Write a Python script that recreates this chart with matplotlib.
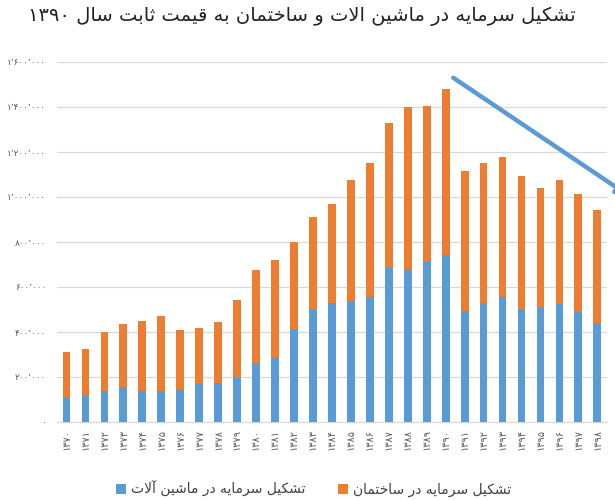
import re
import matplotlib
matplotlib.use("Agg")
import matplotlib.pyplot as plt
from matplotlib import font_manager, ft2font
import numpy as np

# ---------------- data ----------------
years = list(range(1370, 1399))
machinery = [110, 120, 138, 154, 140, 140, 145, 168, 172, 194,
             262, 289, 414, 497, 527, 540, 555, 686, 678, 713,
             744, 494, 527, 555, 497, 506, 523, 488, 438]          # thousand
totals = [310, 323, 400, 435, 447, 471, 408, 416, 443, 542,
          676, 720, 801, 910, 969, 1075, 1150, 1331, 1401, 1405,
          1479, 1116, 1152, 1180, 1093, 1041, 1074, 1012, 941]     # thousand
machinery = [v * 1000 for v in machinery]
buildings = [t * 1000 - m for t, m in zip(totals, machinery)]
y_ticks = [0, 200000, 400000, 600000, 800000, 1000000, 1200000, 1400000, 1600000]

title = "تشکیل سرمایه در ماشین الات و ساختمان به قیمت ثابت سال ۱۳۹۰"
label_mach = "تشکیل سرمایه در ماشین آلات"
label_build = "تشکیل سرمایه در ساختمان"

# trend arrow (data coordinates: category index, value)
arrow_start = (20.4, 1530000)
arrow_end = (29.6, 1009000)

BLUE = "#5B9BD5"
ORANGE = "#ED7D31"

# ---------------- simple Persian shaping ----------------
fpath = font_manager.findfont("DejaVu Sans")
charmap = ft2font.FT2Font(fpath).get_charmap()

FORMS = {
    'ا': (0xFE8D, 0xFE8E, None, None),
    'آ': (0xFE81, 0xFE82, None, None),
    'ب': (0xFE8F, 0xFE90, 0xFE91, 0xFE92),
    'ت': (0xFE95, 0xFE96, 0xFE97, 0xFE98),
    'ث': (0xFE99, 0xFE9A, 0xFE9B, 0xFE9C),
    'خ': (0xFEA5, 0xFEA6, 0xFEA7, 0xFEA8),
    'د': (0xFEA9, 0xFEAA, None, None),
    'ر': (0xFEAD, 0xFEAE, None, None),
    'س': (0xFEB1, 0xFEB2, 0xFEB3, 0xFEB4),
    'ش': (0xFEB5, 0xFEB6, 0xFEB7, 0xFEB8),
    'ق': (0xFED5, 0xFED6, 0xFED7, 0xFED8),
    'ک': (0xFB8E, 0xFB8F, 0xFB90, 0xFB91),
    'ل': (0xFEDD, 0xFEDE, 0xFEDF, 0xFEE0),
    'م': (0xFEE1, 0xFEE2, 0xFEE3, 0xFEE4),
    'ن': (0xFEE5, 0xFEE6, 0xFEE7, 0xFEE8),
    'ه': (0xFEE9, 0xFEEA, 0xFEEB, 0xFEEC),
    'و': (0xFEED, 0xFEEE, None, None),
    'ی': (0xFBFC, 0xFBFD, 0xFBFE, 0xFBFF),
}
FALLBACK = {
    'ک': (0xFED9, 0xFEDA, 0xFEDB, 0xFEDC),
    'ی': (0xFEEF, 0xFEF0, 0xFEF3, 0xFEF4),
}
for k, fb in FALLBACK.items():
    if not all(c in charmap for c in FORMS[k]):
        FORMS[k] = fb
LAMALEF = {'ا': (0xFEFB, 0xFEFC), 'آ': (0xFEF5, 0xFEF6)}


def shape(s):
    out = []
    i, n = 0, len(s)
    while i < n:
        c = s[i]
        if c not in FORMS:
            out.append(c)
            i += 1
            continue
        prev_c = s[i - 1] if i > 0 else None
        prev_j = prev_c in FORMS and FORMS[prev_c][2] is not None
        if c == 'ل' and i + 1 < n and s[i + 1] in LAMALEF:
            iso, fin = LAMALEF[s[i + 1]]
            out.append(chr(fin if prev_j else iso))
            i += 2
            continue
        nxt = s[i + 1] if i + 1 < n else None
        next_j = FORMS[c][2] is not None and nxt in FORMS
        f = FORMS[c]
        if prev_j and next_j:
            code = f[3]
        elif prev_j:
            code = f[1]
        elif next_j:
            code = f[2]
        else:
            code = f[0]
        out.append(chr(code))
        i += 1
    shaped = "".join(out)
    tokens = re.findall(r'[0-9\u06F0-\u06F9]+|[^0-9\u06F0-\u06F9]', shaped)
    return "".join(tokens[::-1])


PD = str.maketrans("0123456789", "۰۱۲۳۴۵۶۷۸۹")


def fa_num(v):
    return f"{v:,}".replace(",", "\u066C").translate(PD)


# ---------------- plot ----------------
plt.rcParams['font.family'] = ['DejaVu Sans']
fig = plt.figure(figsize=(6.15, 5.0), dpi=100)
ax = fig.add_axes([0.0927, 0.156, 0.894, 0.72])

x = np.arange(len(years))
w = 0.41
ax.bar(x, machinery, w, color=BLUE, label=shape(label_mach), zorder=3)
ax.bar(x, buildings, w, bottom=machinery, color=ORANGE, label=shape(label_build), zorder=3)

ax.set_xlim(-0.5, len(years) - 0.5)
ax.set_ylim(0, 1600000)
ax.set_yticks(y_ticks)
ax.set_yticklabels([fa_num(v) for v in y_ticks], fontsize=6.5, color="#595959")
ax.set_xticks(x)
ax.set_xticklabels([str(y).translate(PD) for y in years], rotation=90,
                   fontsize=7, color="#595959")
ax.tick_params(axis='both', length=0)
ax.tick_params(axis='y', pad=8)
ax.tick_params(axis='x', pad=5)
ax.grid(axis='y', color="#D9D9D9", linewidth=0.9, zorder=0)
for s in ['top', 'right', 'left']:
    ax.spines[s].set_visible(False)
ax.spines['bottom'].set_color("#D9D9D9")
ax.set_axisbelow(True)

fig.text(0.49, 0.968, shape(title), ha='center', va='center', fontsize=14, color="#222222")

ax.annotate("", xy=arrow_end, xytext=arrow_start,
            arrowprops=dict(arrowstyle="-|>,head_length=0.6,head_width=0.35",
                            color=BLUE, lw=3.2, shrinkA=0, shrinkB=0),
            annotation_clip=False)

leg = fig.legend(loc='center', bbox_to_anchor=(0.51, 0.022), ncol=2, frameon=False,
                 fontsize=10, handlelength=0.7, handleheight=0.7, handletextpad=0.35,
                 columnspacing=2.4, labelcolor="#404040")

fig.savefig("out.png", dpi=100)
